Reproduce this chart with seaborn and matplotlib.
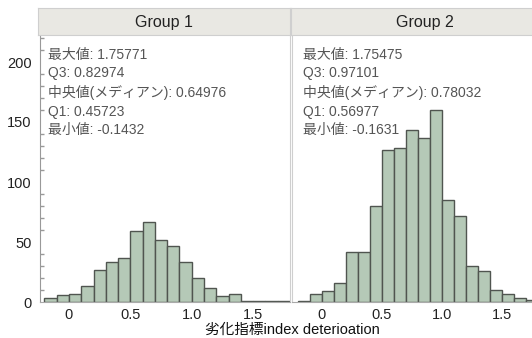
import numpy as np
import pandas as pd
import matplotlib
matplotlib.use("Agg")
import matplotlib.pyplot as plt
import seaborn as sns
from matplotlib.ticker import MultipleLocator

# ---- data ----
groups = ["Group 1", "Group 2"]
bin_left = [-0.2, -0.1, 0.0, 0.1, 0.2, 0.3, 0.4, 0.5, 0.6, 0.7,
            0.8, 0.9, 1.0, 1.1, 1.2, 1.3, 1.4, 1.5, 1.6, 1.7]
bin_width = 0.1
counts_g1 = [3, 6, 7, 13, 27, 33, 37, 59, 67, 52,
             47, 33, 20, 12, 5, 7, 1, 1, 1, 1]
counts_g2 = [1, 7, 9, 16, 42, 42, 80, 127, 128, 143,
             137, 160, 85, 72, 30, 26, 10, 7, 3, 2]
stats_g1 = ["最大値: 1.75771", "Q3: 0.82974", "中央値(メディアン): 0.64976",
            "Q1: 0.45723", "最小値: -0.1432"]
stats_g2 = ["最大値: 1.75475", "Q3: 0.97101", "中央値(メディアン): 0.78032",
            "Q1: 0.56977", "最小値: -0.1631"]
xticks = [0, 0.5, 1.0, 1.5]
xtick_labels = ["0", "0.5", "1.0", "1.5"]
yticks = [0, 50, 100, 150, 200]
xlabel = "劣化指標index deterioation"

sns.set_theme(style="white")
FONT = ["Liberation Sans", "Noto Sans CJK JP", "DejaVu Sans"]
plt.rcParams["font.family"] = FONT

W, H = 532, 338
fig = plt.figure(figsize=(W / 100, H / 100), dpi=100)
fig.patch.set_facecolor("white")

def px_rect(x0, y0, x1, y1):
    # pixel coords (top-left origin) -> figure fraction rect
    return [x0 / W, (H - y1) / H, (x1 - x0) / W, (y1 - y0) / H]

bar_color = "#b5c9b7"
edge_color = "#505550"
header_color = "#e9e8e3"
sep_color = "#cfcfcf"

panels = [
    dict(name=groups[0], counts=counts_g1, stats=stats_g1,
         rect=(40, 35, 290, 302), xlim=(-0.236, 1.80), hdr=(38, 8, 290, 35), tx=48),
    dict(name=groups[1], counts=counts_g2, stats=stats_g2,
         rect=(292, 35, 558, 302), xlim=(-0.25, 1.967), hdr=(291, 8, 558, 35), tx=303),
]

edges = list(bin_left) + [bin_left[-1] + bin_width]
for i, p in enumerate(panels):
    x0, y0, x1, y1 = p["rect"]
    ax = fig.add_axes(px_rect(x0, y0, x1, y1))
    df = pd.DataFrame({"center": [b + bin_width / 2 for b in bin_left],
                       "count": p["counts"]})
    sns.histplot(data=df, x="center", weights="count", bins=edges, ax=ax,
                 color=bar_color, edgecolor=edge_color, linewidth=1.0, alpha=1.0)
    ax.set_xlim(*p["xlim"])
    ax.set_ylim(0, 222.5)
    ax.set_xlabel("")
    ax.set_ylabel("")
    ax.set_xticks(xticks)
    ax.set_xticklabels(xtick_labels)
    ax.tick_params(axis="x", direction="in", length=3, color="#999999",
                   labelsize=10.5, labelcolor="#222222", pad=4)
    for s in ["top", "right"]:
        ax.spines[s].set_visible(False)
    ax.spines["bottom"].set_color("#aaaaaa")
    ax.spines["bottom"].set_linewidth(0.8)
    if i == 0:
        ax.set_yticks(yticks)
        ax.yaxis.set_minor_locator(MultipleLocator(10))
        ax.tick_params(axis="y", which="major", direction="out", length=4,
                       color="#888888", labelsize=10.5, labelcolor="#222222", pad=2)
        ax.tick_params(axis="y", which="minor", direction="in", length=3,
                       color="#999999", left=True)
        ax.spines["left"].set_color("#999999")
        ax.spines["left"].set_linewidth(0.8)
        ax.spines["right"].set_visible(True)
        ax.spines["right"].set_color(sep_color)
        ax.spines["right"].set_linewidth(0.8)
    else:
        ax.set_yticks([])
        ax.spines["left"].set_color(sep_color)
        ax.spines["left"].set_linewidth(0.8)
    # stats text
    ys = [206, 190.5, 174.5, 158, 143]
    tx_data = p["xlim"][0] + (p["tx"] - x0) / (x1 - x0) * (p["xlim"][1] - p["xlim"][0])
    for line, yy in zip(p["stats"], ys):
        ax.text(tx_data, yy, line, ha="left", va="center", fontsize=10,
                color="#555555", family=FONT)
    # header
    hx0, hy0, hx1, hy1 = p["hdr"]
    hax = fig.add_axes(px_rect(hx0, hy0, hx1, hy1))
    hax.set_facecolor(header_color)
    hax.set_xticks([])
    hax.set_yticks([])
    for s in hax.spines.values():
        s.set_color(sep_color)
        s.set_linewidth(0.8)
    hax.text(0.5, 0.45, p["name"], ha="center", va="center", fontsize=11.5,
             color="#222222", transform=hax.transAxes)

fig.text(292 / W, 1 - 330 / H, xlabel, ha="center", va="center",
         fontsize=10.5, color="#111111", family=FONT)

fig.savefig("out.png", dpi=100)
